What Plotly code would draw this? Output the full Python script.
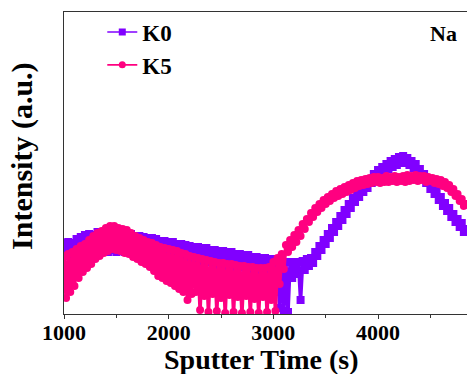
import plotly.graph_objects as go

# Sputter time grid (s), 20 s steps
time_s = list(range(1000, 4841, 20))

# Na intensity (a.u.) (noisy raw signal)
k0 = [71, 58, 72, 60, 71, 61, 75, 60, 77, 63, 79, 64, 80, 66, 79, 65, 82, 64, 81, 66,
      82, 62, 80, 64, 81, 62, 79, 63, 80, 62, 79, 64, 80, 63, 78, 62, 78, 63, 77, 61,
      76, 62, 76, 60, 75, 59, 73, 60, 73, 58, 72, 57, 72, 56, 70, 57, 70, 55, 69, 54,
      68, 55, 67, 52, 67, 53, 66, 51, 66, 52, 64, 50, 64, 49, 63, 50, 63, 48, 62, 49,
      62, 47, 60, 46, 60, 47, 59, 45, 59, 44, 57, 45, 57, 43, 56, 30, 56, 42, 55, 40,
      55, 22, 54, 6, 53, 3, 52, 2, 52, 36, 52, 40, 52, 14, 53, 44, 55, 48,
      56, 51, 62, 58, 68, 64, 74, 70, 80, 76, 86, 82, 92, 88, 98, 94, 104, 100, 110, 106,
      116, 112, 121, 117, 126, 122, 131, 126, 135, 131, 140, 135, 144, 139, 147, 142, 150, 145, 153, 147,
      155, 149, 157, 151, 158, 151, 156, 149, 153, 146, 150, 141, 145, 137, 140, 131, 134, 125, 128, 120,
      123, 114, 117, 108, 111, 103, 106, 97, 100, 92, 95, 87, 91, 82, 85]

k5 = [58, 16, 60, 22, 62, 28, 65, 36, 68, 42, 70, 46, 74, 50, 78, 55, 81, 58, 83, 61,
      86, 63, 88, 65, 88, 64, 86, 63, 85, 61, 84, 60, 81, 57, 78, 55, 76, 52, 74, 50,
      72, 47, 71, 43, 69, 38, 67, 36, 66, 33, 65, 31, 64, 28, 63, 25, 61, 22, 60, 14,
      58, 20, 57, 22, 56, 4, 55, 18, 54, 2, 53, 20, 52, 3, 51, 16, 51, 1, 50, 19,
      50, 2, 49, 17, 48, 1, 48, 18, 47, 2, 47, 15, 46, 1, 46, 17, 46, 2, 47, 14,
      52, 3, 56, 30, 60, 45,
      69, 62, 74, 67, 79, 72, 84, 78, 90, 85, 95, 92, 101, 97, 106, 102, 110, 106, 114, 110,
      117, 113, 120, 116, 123, 118, 125, 120, 127, 122, 129, 124, 131, 126, 133, 128, 134, 129, 135, 130,
      136, 131, 137, 132, 137, 131, 136, 132, 138, 132, 137, 133, 138, 132, 137, 133, 138, 132, 139, 133,
      138, 134, 139, 133, 138, 134, 138, 132, 137, 133, 136, 131, 135, 130, 134, 128, 132, 126, 129, 122,
      125, 118, 120, 113, 115, 108, 110]

assert len(k0) == len(time_s) and len(k5) == len(time_s)

series_names = ["K0", "K5"]
series_colors = ["#8000FF", "#FF0080"]
series_symbols = ["square", "circle"]
x_ticks = [1000, 2000, 3000, 4000]
x_minor = [1500, 2500, 3500, 4500]

SERIF = "Times New Roman, Liberation Serif, serif"

fig = go.Figure()
for name, ys, col, sym in zip(series_names, [k0, k5], series_colors, series_symbols):
    # dense raw signal (thick line so the noisy band reads as solid)
    fig.add_trace(go.Scatter(
        x=time_s, y=ys, name=name, mode="lines+markers", showlegend=False,
        legendgroup=name,
        line=dict(color=col, width=3.6),
        marker=dict(symbol=sym, size=8, color=col, line=dict(width=0)),
    ))
for name, col, sym in zip(series_names, series_colors, series_symbols):
    # legend entry with a thin line, as in the original
    fig.add_trace(go.Scatter(
        x=[None], y=[None], name=name, mode="lines+markers", legendgroup=name,
        line=dict(color=col, width=1.6),
        marker=dict(symbol=sym, size=7, color=col, line=dict(width=0)),
    ))

fig.update_layout(
    width=467, height=374,
    margin=dict(l=64, r=0, t=12, b=60),
    paper_bgcolor="white", plot_bgcolor="white",
    font=dict(family=SERIF, color="black"),
    showlegend=True,
    legend=dict(x=0.095, y=1.005, xanchor="left", yanchor="top",
                bgcolor="rgba(0,0,0,0)",
                font=dict(family=SERIF, size=23, weight="bold"),
                tracegroupgap=0),
    annotations=[
        dict(text="Na", xref="paper", yref="paper", x=0.942, y=0.929,
             xanchor="center", yanchor="middle", showarrow=False,
             font=dict(family=SERIF, size=22, weight="bold")),
        dict(text="Sputter Time (s)", xref="paper", yref="paper", x=0.488, y=-0.151,
             xanchor="center", yanchor="middle", showarrow=False,
             font=dict(family=SERIF, size=28, weight="bold")),
        dict(text="Intensity (a.u.)", xref="paper", yref="paper", x=-0.103, y=0.525,
             xanchor="center", yanchor="middle", showarrow=False, textangle=-90,
             font=dict(family=SERIF, size=30, weight="bold")),
    ],
)

fig.update_xaxes(
    range=[1000, 4850], tickvals=x_ticks, ticks="outside", ticklen=4,
    tickcolor="#333", linecolor="#333", linewidth=1, showline=True, mirror=True,
    showgrid=False, zeroline=False, ticklabelstandoff=-5,
    tickfont=dict(family=SERIF, size=22, weight="bold"),
    minor=dict(tickvals=x_minor, ticks="outside", ticklen=3, tickcolor="#333"),
)
fig.update_yaxes(
    range=[0, 302], showticklabels=False, ticks="", showgrid=False, zeroline=False,
    showline=True, linecolor="#333", linewidth=1, mirror=False,
)

fig.write_html("out.html")
